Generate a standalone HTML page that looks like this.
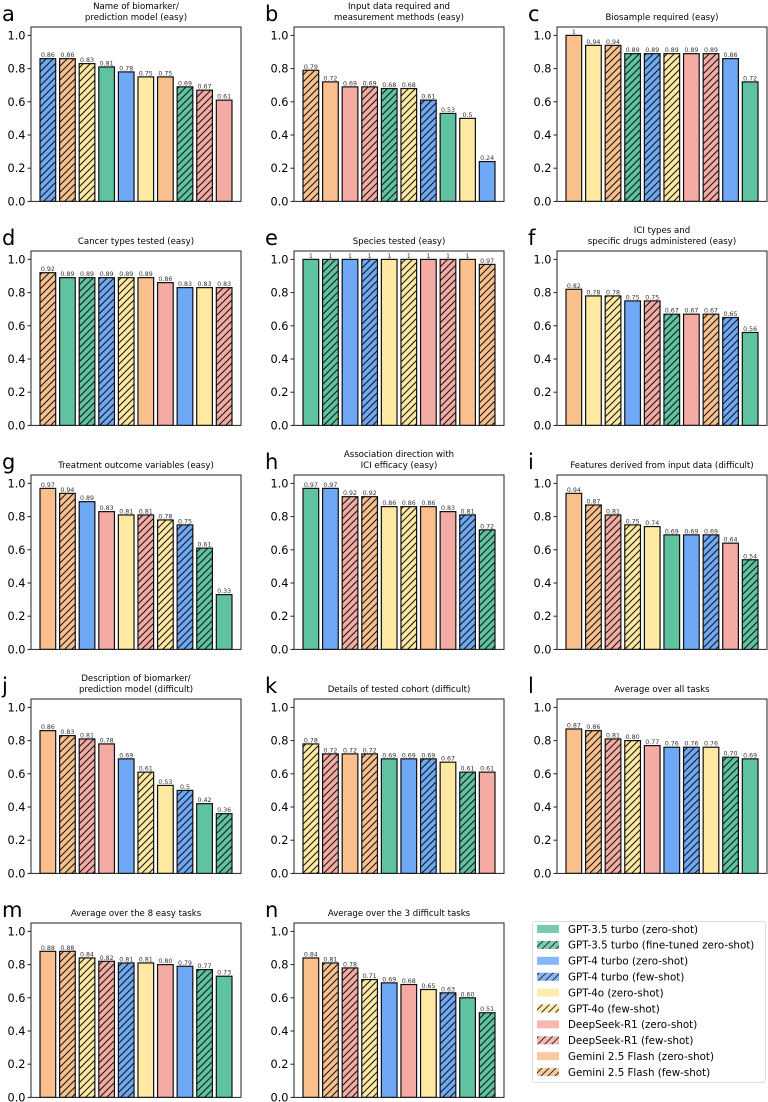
<!DOCTYPE html>
<html><head><meta charset="utf-8">
<style>
html,body{margin:0;padding:0;background:#fff;}
svg{display:block;font-family:"DejaVu Sans","Liberation Sans",sans-serif;}
</style></head>
<body>
<svg id="chart" width="768" height="1102" viewBox="0 0 768 1102" xmlns="http://www.w3.org/2000/svg">
<defs id="defs"></defs>
</svg>
<script>
// Model names (legend order)
const modelNames = ["GPT-3.5 turbo (zero-shot)","GPT-3.5 turbo (fine-tuned zero-shot)","GPT-4 turbo (zero-shot)","GPT-4 turbo (few-shot)","GPT-4o (zero-shot)","GPT-4o (few-shot)","DeepSeek-R1 (zero-shot)","DeepSeek-R1 (few-shot)","Gemini 2.5 Flash (zero-shot)","Gemini 2.5 Flash (few-shot)"];
const panelLetters = ["a","b","c","d","e","f","g","h","i","j","k","l","m","n"];
const panelTitles = [
 ["Name of biomarker/","prediction model (easy)"],
 ["Input data required and","measurement methods (easy)"],
 ["Biosample required (easy)"],
 ["Cancer types tested (easy)"],
 ["Species tested (easy)"],
 ["ICI types and","specific drugs administered (easy)"],
 ["Treatment outcome variables (easy)"],
 ["Association direction with","ICI efficacy (easy)"],
 ["Features derived from input data (difficult)"],
 ["Description of biomarker/","prediction model (difficult)"],
 ["Details of tested cohort (difficult)"],
 ["Average over all tasks"],
 ["Average over the 8 easy tasks"],
 ["Average over the 3 difficult tasks"]
];
// bar order (model index) per panel
const orderA=[3,9,5,0,2,4,8,1,7,6];
const orderB=[9,8,6,7,1,5,3,0,4,2];
const orderC=[8,4,9,1,3,5,6,7,2,0];
const orderD=[9,0,1,3,5,8,6,2,4,7];
const orderE=[0,1,2,3,4,5,6,7,8,9];
const orderF=[8,4,5,2,7,1,6,9,3,0];
const orderG=[8,9,2,6,4,7,5,3,1,0];
const orderH=[0,2,7,9,4,5,8,6,3,1];
const orderI=[8,9,7,5,4,0,2,3,6,1];
const orderJ=[8,9,7,6,2,5,4,3,0,1];
const orderK=[5,7,8,9,0,2,3,4,1,6];
const orderL=[8,9,7,5,6,2,3,4,1,0];
const orderM=[8,9,5,7,3,4,6,2,1,0];
const orderN=[8,9,7,5,2,6,4,3,0,1];
// values per panel (in bar order)
const valsA=[0.86,0.86,0.83,0.81,0.78,0.75,0.75,0.69,0.67,0.61];
const valsB=[0.79,0.72,0.69,0.69,0.68,0.68,0.61,0.53,0.5,0.24];
const valsC=[1,0.94,0.94,0.89,0.89,0.89,0.89,0.89,0.86,0.72];
const valsD=[0.92,0.89,0.89,0.89,0.89,0.89,0.86,0.83,0.83,0.83];
const valsE=[1,1,1,1,1,1,1,1,1,0.97];
const valsF=[0.82,0.78,0.78,0.75,0.75,0.67,0.67,0.67,0.65,0.56];
const valsG=[0.97,0.94,0.89,0.83,0.81,0.81,0.78,0.75,0.61,0.33];
const valsH=[0.97,0.97,0.92,0.92,0.86,0.86,0.86,0.83,0.81,0.72];
const valsI=[0.94,0.87,0.81,0.75,0.74,0.69,0.69,0.69,0.64,0.54];
const valsJ=[0.86,0.83,0.81,0.78,0.69,0.61,0.53,0.5,0.42,0.36];
const valsK=[0.78,0.72,0.72,0.72,0.69,0.69,0.69,0.67,0.61,0.61];
const valsL=[0.87,0.86,0.81,0.80,0.77,0.76,0.76,0.76,0.70,0.69];
const valsM=[0.88,0.88,0.84,0.82,0.81,0.81,0.80,0.79,0.77,0.73];
const valsN=[0.84,0.81,0.78,0.71,0.69,0.68,0.65,0.63,0.60,0.51];
const labelsL=["0.87","0.86","0.81","0.80","0.77","0.76","0.76","0.76","0.70","0.69"];
const labelsM=["0.88","0.88","0.84","0.82","0.81","0.81","0.80","0.79","0.77","0.73"];
const labelsN=["0.84","0.81","0.78","0.71","0.69","0.68","0.65","0.63","0.60","0.51"];
const yTicks=[0,0.2,0.4,0.6,0.8,1.0];
const yTickLabels=["0.0","0.2","0.4","0.6","0.8","1.0"];

const orders=[orderA,orderB,orderC,orderD,orderE,orderF,orderG,orderH,orderI,orderJ,orderK,orderL,orderM,orderN];
const values=[valsA,valsB,valsC,valsD,valsE,valsF,valsG,valsH,valsI,valsJ,valsK,valsL,valsM,valsN];
const fixedLabels={11:labelsL,12:labelsM,13:labelsN};

const colors=["#5fc3a1","#5fc3a1","#6fa8f5","#6fa8f5","#fee8a2","#fee8a2","#f4aba3","#f4aba3","#f9c08e","#f9c08e"];
const NS="http://www.w3.org/2000/svg";
const svg=document.getElementById("chart");
const defs=document.getElementById("defs");
function mk(tag,attrs,parent){const e=document.createElementNS(NS,tag);for(const k in attrs)e.setAttribute(k,attrs[k]);(parent||svg).appendChild(e);return e;}

["g","b","y","p","o"].forEach((n,i)=>{
  const p=mk("pattern",{id:"h"+i,patternUnits:"userSpaceOnUse",width:7,height:7},defs);
  mk("rect",{x:0,y:0,width:7,height:7,fill:colors[i*2]},p);
  mk("path",{d:"M-1,1 l2,-2 M0,7 l7,-7 M6,8 l2,-2",stroke:"#111",'stroke-width':1},p);
});
function fillFor(m){return (m%2===1)?"url(#h"+Math.floor(m/2)+")":colors[m];}

const W=210,H=174.4,colX=[31,294,557],rowT=[27,251,475,699,923];
const unitPx=166;
function fmt(v){return (v===1)?"1":(Math.round(v*100)/100).toString();}

for(let pi=0;pi<14;pi++){
  const c=pi%3,r=Math.floor(pi/3);
  const L=colX[c],T=rowT[r],B=T+H;
  const yScale=v=>B-v*unitPx;
  const p=(W)/(9.8+2*0.46);
  const m=(W-9.8*p)/2;
  const xScale=i=>L+m+i*p;
  const g=mk("g",{});
  
  
  const lt=mk("text",{x:L-29,y:T-6,'font-size':21,fill:"#000"},g);
  lt.textContent=panelLetters[pi];
  
  
  const tl=panelTitles[pi];
  tl.forEach((s,k)=>{
    const t=mk("text",{x:L+W/2,y:T-7-(tl.length-1-k)*11,'font-size':8.6,'text-anchor':'middle',fill:"#000"},g);
    t.textContent=s;
    
    
  });
  const ord=orders[pi],vals=values[pi];
  for(let i=0;i<vals.length;i++){
    const x=xScale(i),y=yScale(vals[i]);
    const rc=mk("rect",{x:x,y:y,width:0.8*p,height:B-y,fill:fillFor(ord[i]),stroke:"#111",'stroke-width':1.2},g);
    
    
    const vt=mk("text",{x:x+0.4*p,y:y-1.5,'font-size':6.3,'text-anchor':'middle',fill:"#333"},g);
    vt.textContent=fixedLabels[pi]?fixedLabels[pi][i]:fmt(vals[i]);
    
    
  }
  const fr=mk("rect",{x:L,y:T,width:W,height:H,fill:"none",stroke:"#222",'stroke-width':1},g);
  
  
  yTicks.forEach((v,k)=>{
    const y=yScale(v);
    mk("line",{x1:L-3.5,x2:L,y1:y,y2:y,stroke:"#222",'stroke-width':1},g);
    const tt=mk("text",{x:L-5.5,y:y+4,'font-size':11.3,'text-anchor':'end',fill:"#000"},g);
    tt.textContent=yTickLabels[k];
    
    
  });
}

const lg=mk("g",{});


mk("rect",{x:532.5,y:921.5,width:233,height:161,rx:2,fill:"#fff",stroke:"#ddd",'stroke-width':1},lg);
modelNames.forEach((n,i)=>{
  const y=925+i*15.9;
  const pr=mk("rect",{x:537,y:y,width:22,height:8,fill:fillFor(i),stroke:"none",opacity:0.85},lg);
  
  
  const t=mk("text",{x:568,y:y+7.8,'font-size':10.3,fill:"#000"},lg);
  t.textContent=n;
  
  
});
</script>
</body></html>
